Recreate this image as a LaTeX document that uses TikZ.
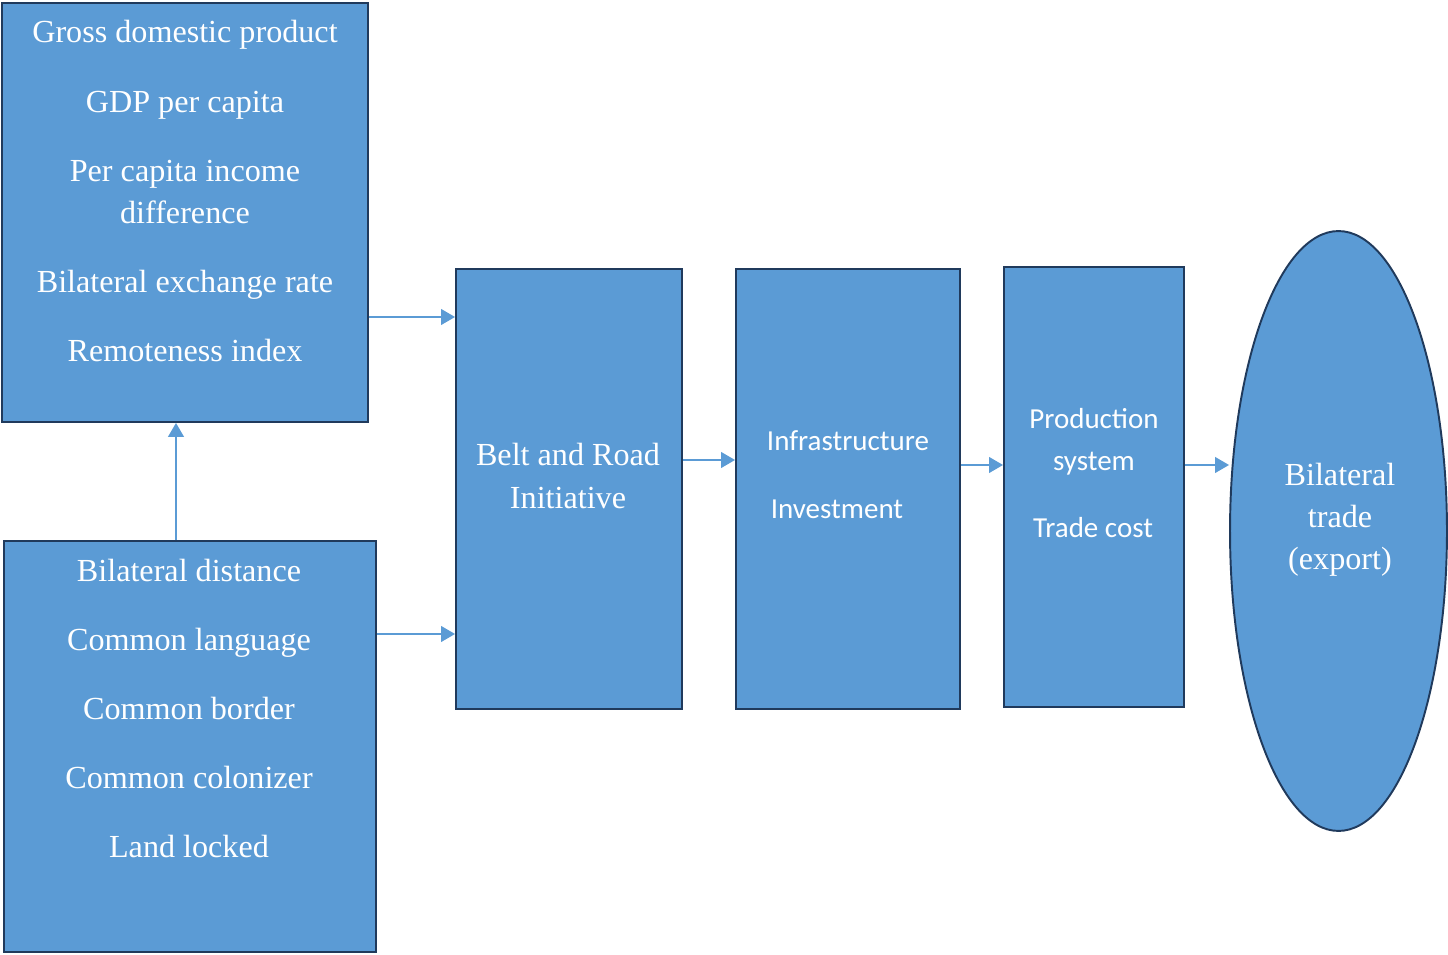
\documentclass[tikz,border=0pt]{standalone}
\usepackage{fontspec}
\setmainfont{Liberation Serif}
\newfontfamily\calibri{Carlito}
\usetikzlibrary{arrows.meta,shapes.geometric}

\definecolor{boxblue}{HTML}{5B9BD5}
\definecolor{boxline}{HTML}{203A5C}

\begin{document}
\begin{tikzpicture}[x=0.02cm, y=-0.02cm,
    box/.style={draw=boxline, fill=boxblue, line width=1.1pt, inner sep=0pt},
    txt/.style={text=white, align=center, font=\fontsize{18.3}{24}\selectfont},
    sans/.style={text=white, align=center, font=\calibri\fontsize{16.5}{24}\selectfont},
    arr/.style={draw=boxblue, line width=1pt, -{Triangle[length=8pt,width=9pt]}}]
    \useasboundingbox (0,0) rectangle (1448,955);

    % determinants
    \node[box, minimum width=7.32cm, minimum height=8.38cm] (econ) at (185,212.5) {};
    \node[txt] (gdp) at (185,35) {Gross domestic product};
    \node[txt] (gdppc) at (185,105) {GDP per capita};
    \node[txt] (income) at (185,192) {Per capita income\\difference};
    \node[txt] (exrate) at (185,285) {Bilateral exchange rate};
    \node[txt] (remote) at (185,351) {Remoteness index};

    % gravity variables
    \node[box, minimum width=7.44cm, minimum height=8.22cm] (geo) at (190,746.5) {};
    \node[txt] (dist) at (189,571) {Bilateral distance};
    \node[txt] (lang) at (189,643) {Common language};
    \node[txt] (border) at (189,709) {Common border};
    \node[txt] (colon) at (189,778) {Common colonizer};
    \node[txt] (land) at (189,847) {Land locked};

    % BRI
    \node[box, minimum width=4.52cm, minimum height=8.8cm] (bri) at (569,489) {};
    \node[txt] (brilab) at (568,476) {Belt and Road\\Initiative};

    % infrastructure
    \node[box, minimum width=4.48cm, minimum height=8.8cm] (infra) at (848,489) {};
    \node[sans] (infralab) at (848,441) {Infrastructure};
    \node[sans] (invest) at (837,509) {Investment};

    % production
    \node[box, minimum width=3.6cm, minimum height=8.8cm] (prod) at (1094,487) {};
    \node[sans] (prodlab) at (1094,442) {Production\\system};
    \node[sans] (cost) at (1093,528) {Trade cost};

    % trade
    \node[box, ellipse, minimum width=4.34cm, minimum height=12cm] (trade) at (1338.5,531) {};
    \node[txt] (tradelab) at (1340,520) {Bilateral\\trade\\(export)};

    % arrows
    \draw[arr] (econ.east |- 0,317) -- (bri.west |- 0,317);
    \draw[arr] (geo.east |- 0,634) -- (bri.west |- 0,634);
    \draw[arr] (geo.north -| 176,0) -- (econ.south -| 176,0);
    \draw[arr] (bri.east |- 0,460) -- (infra.west |- 0,460);
    \draw[arr] (infra.east |- 0,465) -- (prod.west |- 0,465);
    \draw[arr] (prod.east |- 0,465) -- (trade.west |- 0,465);
\end{tikzpicture}
\end{document}
